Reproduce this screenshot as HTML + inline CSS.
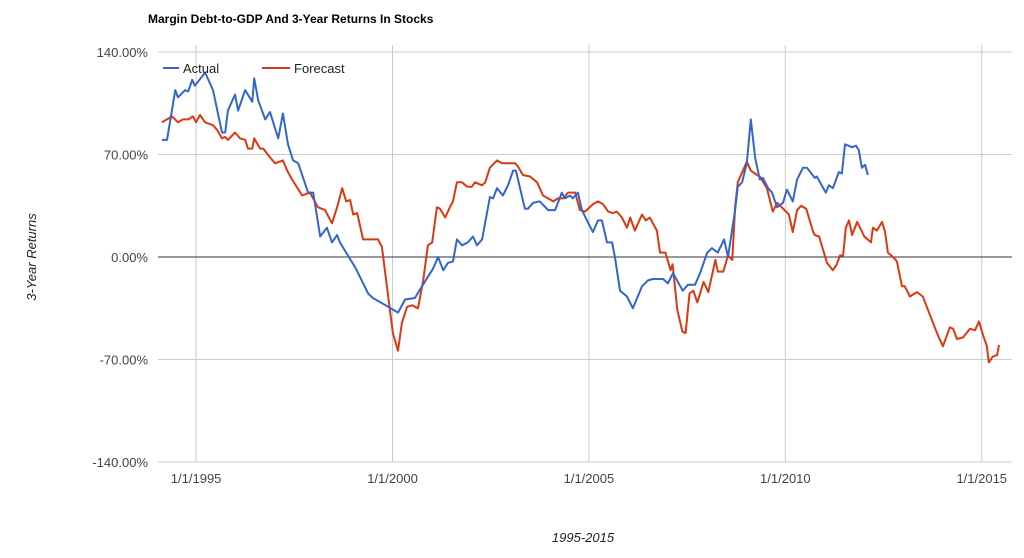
<!DOCTYPE html>
<html><head><meta charset="utf-8"><style>
body{margin:0;background:#fff;width:1024px;height:558px;overflow:hidden;font-family:"Liberation Sans",Arial,sans-serif}
svg{display:block}
</style></head><body>
<svg id="chart" width="1024" height="558">
<text x="148" y="23" font-size="12" font-weight="bold" fill="#000">Margin Debt-to-GDP And 3-Year Returns In Stocks</text>
<text transform="translate(36,257) rotate(-90)" text-anchor="middle" font-size="13" font-style="italic" fill="#222">3-Year Returns</text>
<text x="583" y="542" text-anchor="middle" font-size="13" font-style="italic" fill="#222">1995-2015</text>
<g id="grid"></g><g id="series"></g>
<g>
<line x1="163" y1="68" x2="179" y2="68" stroke="#3366cc" stroke-width="2"/>
<text x="183" y="73" font-size="13" fill="#222">Actual</text>
<line x1="262" y1="68" x2="290" y2="68" stroke="#dc3912" stroke-width="2"/>
<text x="294" y="73" font-size="13" fill="#222">Forecast</text>
</g>
</svg>
<script>
const yTicks=[140,70,0,-70,-140];
const yTickLabels=["140.00%","70.00%","0.00%","-70.00%","-140.00%"];
const xTicks=[1995,2000,2005,2010,2015];
const xTickLabels=["1/1/1995","1/1/2000","1/1/2005","1/1/2010","1/1/2015"];
const actualYears=[1994.13,1994.26,1994.47,1994.54,1994.72,1994.80,1994.90,1994.97,1995.23,1995.43,1995.66,1995.74,1995.81,1995.99,1996.07,1996.25,1996.43,1996.48,1996.58,1996.76,1996.88,1997.09,1997.21,1997.34,1997.47,1997.60,1997.85,1997.98,1998.16,1998.33,1998.46,1998.59,1998.66,1999.05,1999.38,1999.50,1999.89,2000.14,2000.32,2000.57,2000.75,2001.03,2001.16,2001.29,2001.41,2001.54,2001.64,2001.77,2001.92,2002.05,2002.15,2002.28,2002.48,2002.56,2002.66,2002.81,2002.94,2003.07,2003.14,2003.37,2003.45,2003.58,2003.75,2003.96,2004.14,2004.31,2004.39,2004.52,2004.59,2004.72,2004.82,2004.95,2005.10,2005.23,2005.33,2005.46,2005.59,2005.66,2005.79,2005.97,2006.12,2006.35,2006.50,2006.63,2006.89,2007.01,2007.14,2007.39,2007.52,2007.70,2007.83,2008.01,2008.13,2008.28,2008.44,2008.54,2008.72,2008.79,2008.90,2009.02,2009.12,2009.23,2009.35,2009.43,2009.56,2009.66,2009.79,2009.94,2010.04,2010.19,2010.30,2010.45,2010.55,2010.75,2010.80,2011.03,2011.11,2011.21,2011.36,2011.44,2011.52,2011.70,2011.80,2011.87,2011.95,2012.03,2012.10];
const actualValues=[80,80,114,109,114,113,121,117,126,114,85,85,100,111,100,114,106,122,107,94,99,81,98,77,66,64,44,44,14,20,10,15,10,-7,-25,-28,-34,-38,-29,-28,-20,-8,0,-9,-4,-3,12,8,10,14,8,12,41,40,47,42,49,59,59,33,33,37,38,32,32,44,40,42,40,44,32,25,17,25,25,10,10,0,-23,-27,-35,-20,-16,-15,-15,-18,-11,-23,-19,-19,-11,3,6,3,12,0,32,48,51,64,94,68,53,54,47,44,34,37,46,38,53,61,61,54,55,44,49,47,58,57,77,75,76,73,61,63,56];
const forecastYears=[1994.13,1994.39,1994.54,1994.67,1994.80,1994.92,1995.00,1995.10,1995.23,1995.43,1995.53,1995.66,1995.74,1995.81,1995.99,1996.12,1996.25,1996.32,1996.43,1996.48,1996.63,1996.71,1996.88,1997.01,1997.21,1997.32,1997.44,1997.70,1997.90,1998.10,1998.28,1998.46,1998.59,1998.72,1998.82,1998.92,1999.00,1999.10,1999.25,1999.38,1999.50,1999.63,1999.73,1999.89,2000.01,2000.14,2000.24,2000.37,2000.50,2000.65,2000.78,2000.90,2001.01,2001.13,2001.21,2001.34,2001.46,2001.54,2001.64,2001.77,2001.90,2002.02,2002.10,2002.28,2002.36,2002.48,2002.66,2002.79,2002.94,2003.12,2003.19,2003.32,2003.50,2003.68,2003.83,2003.96,2004.09,2004.21,2004.34,2004.47,2004.65,2004.77,2004.90,2005.10,2005.23,2005.36,2005.49,2005.61,2005.71,2005.84,2005.97,2006.05,2006.17,2006.35,2006.45,2006.55,2006.73,2006.81,2006.95,2007.08,2007.13,2007.25,2007.38,2007.46,2007.56,2007.66,2007.76,2007.83,2007.92,2008.04,2008.22,2008.28,2008.42,2008.54,2008.65,2008.72,2008.79,2008.92,2009.02,2009.12,2009.28,2009.35,2009.53,2009.68,2009.79,2010.02,2010.09,2010.19,2010.30,2010.40,2010.53,2010.71,2010.75,2010.86,2011.06,2011.21,2011.31,2011.39,2011.47,2011.54,2011.62,2011.70,2011.83,2012.01,2012.18,2012.23,2012.33,2012.46,2012.54,2012.61,2012.74,2012.84,2012.97,2013.04,2013.17,2013.35,2013.50,2013.60,2013.86,2014.01,2014.19,2014.27,2014.37,2014.52,2014.70,2014.83,2014.93,2015.03,2015.13,2015.18,2015.28,2015.39,2015.44];
const forecastValues=[92,96,92,94,94,96,92,97,92,90,87,81,82,80,85,81,80,74,74,81,74,74,68,64,66,59,53,42,44,34,32,23,34,47,38,39,29,30,12,12,12,12,7,-27,-52,-64,-45,-34,-33,-35,-16,8,10,34,33,27,34,38,51,51,48,48,51,49,51,61,66,64,64,64,62,56,55,51,42,40,38,40,40,44,44,32,31,36,38,36,31,30,31,27,20,27,18,29,25,27,18,3,3,-9,-5,-36,-51,-52,-25,-23,-31,-25,-17,-24,-2,-10,-10,1,-2,34,51,59,65,59,56,55,47,31,37,31,29,17,32,35,33,17,15,14,-4,-9,-5,1,1,20,25,15,24,14,10,20,18,24,17,3,0,-3,-20,-20,-27,-24,-27,-34,-52,-61,-48,-49,-56,-55,-49,-50,-44,-53,-61,-72,-68,-67,-60];

const L=158,R=1012,X0=1994.03,X1=2015.77;
const xs=v=>L+(v-X0)/(X1-X0)*(R-L);
const ys=v=>257-v*(205/140);
const NS="http://www.w3.org/2000/svg";
const grid=document.getElementById('grid'),ser=document.getElementById('series');
function mk(tag,attrs,parent){const e=document.createElementNS(NS,tag);for(const k in attrs)e.setAttribute(k,attrs[k]);parent.appendChild(e);return e;}
xTicks.forEach((t,i)=>{
  const x=xs(t);
  const ln=mk('line',{x1:x,x2:x,y1:45,y2:462,stroke:'#ccc','stroke-width':1},grid);
  
  
  const tx=mk('text',{x:x,y:483,'text-anchor':'middle','font-size':13,fill:'#444'},grid);
  tx.textContent=xTickLabels[i];
  
  
});
yTicks.forEach((t,i)=>{
  const y=ys(t);
  const ln=mk('line',{x1:L,x2:R,y1:y,y2:y,stroke:t===0?'#333':'#ccc','stroke-width':1},grid);
  
  
  const tx=mk('text',{x:148,y:y+5,'text-anchor':'end','font-size':13,fill:'#444'},grid);
  tx.textContent=yTickLabels[i];
  
  
});
function line(years,vals,color,name){
  const d=years.map((y,i)=>(i?'L':'M')+xs(y).toFixed(1)+' '+ys(vals[i]).toFixed(1)).join(' ');
  const p=mk('path',{d:d,fill:'none',stroke:color,'stroke-width':2,'stroke-linejoin':'round'},ser);
  
  
}
line(forecastYears,forecastValues,'#dc3912','forecast-line');
line(actualYears,actualValues,'#3366cc','actual-line');
</script>
</body></html>
